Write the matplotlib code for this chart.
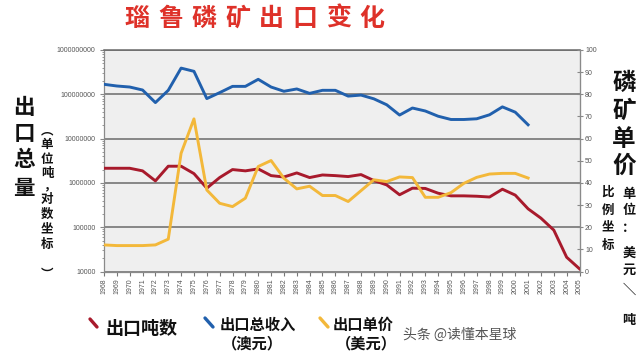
import matplotlib
matplotlib.use("Agg")
import matplotlib.pyplot as plt
from matplotlib.lines import Line2D
from matplotlib.ticker import LogLocator, FixedLocator, NullFormatter

plt.rcParams['font.family'] = ['Liberation Sans', 'Noto Sans CJK SC', 'DejaVu Sans']
CJK = ['Noto Sans CJK SC', 'DejaVu Sans']

# ---- data ----
years = list(range(1968, 2006))
years_rev = list(range(1968, 2002))

tonnes = [2.14e6, 2.14e6, 2.14e6, 1.87e6, 1.11e6, 2.38e6, 2.38e6, 1.62e6, 7.6e5, 1.32e6,
          2.0e6, 1.87e6, 2.07e6, 1.46e6, 1.36e6, 1.68e6, 1.32e6, 1.51e6, 1.46e6, 1.39e6,
          1.54e6, 1.13e6, 9.0e5, 5.4e5, 7.6e5, 7.5e5, 5.85e5, 5.1e5, 5.1e5, 5.0e5,
          4.8e5, 7.2e5, 5.3e5, 2.6e5, 1.6e5, 8.6e4, 2.1e4, 1.15e4]

revenue = [1.68e8, 1.54e8, 1.46e8, 1.25e8, 6.5e7, 1.23e8, 3.9e8, 3.3e8, 8.0e7, 1.09e8,
           1.51e8, 1.51e8, 2.18e8, 1.46e8, 1.17e8, 1.32e8, 1.05e8, 1.23e8, 1.23e8, 9.1e7,
           9.6e7, 7.9e7, 5.8e7, 3.4e7, 4.9e7, 4.2e7, 3.2e7, 2.7e7, 2.7e7, 2.8e7,
           3.45e7, 5.2e7, 3.95e7, 2.05e7]

price = [12.0, 11.7, 11.7, 11.7, 12.0, 14.6, 53.4, 68.9, 36.8, 30.8,
         29.3, 33.1, 47.4, 50.1, 42.1, 37.3, 38.5, 34.3, 34.3, 31.6,
         36.5, 41.4, 40.6, 42.7, 42.4, 33.5, 33.5, 35.6, 39.8, 42.5,
         44.0, 44.3, 44.3, 42.2]

left_ticks = [1e4, 1e5, 1e6, 1e7, 1e8, 1e9]
left_labels = ['10000', '100000', '1000000', '10000000', '100000000', '1000000000']
right_ticks = list(range(0, 101, 10))

RED = '#a81a2c'
BLUE = '#2160ad'
YELLOW = '#f3b83a'
GRID = '#6a6a6a'
TICK = '#555555'

W, H = 640, 356


def fc(x, y):
    """pixel position -> figure fraction"""
    return x / W, 1 - y / H


fig = plt.figure(figsize=(6.4, 3.56), dpi=100)

x0, y0 = fc(104, 271.5)
x1, y1 = fc(579.5, 50)
ax = fig.add_axes([x0, y0, x1 - x0, y1 - y0])
ax.set_facecolor('#efefef')
ax.set_yscale('log')
ax.set_ylim(1e4, 1e9)
ax.set_xlim(years[0], years[-1])

ax.plot(years, tonnes, color=RED, lw=2.1, solid_joinstyle='round', zorder=3)
ax.plot(years_rev, revenue, color=BLUE, lw=2.1, solid_joinstyle='round', zorder=3)

ax.yaxis.set_major_locator(FixedLocator(left_ticks))
ax.set_yticklabels(left_labels)
ax.yaxis.set_minor_locator(LogLocator(base=10, subs=range(2, 10)))
ax.yaxis.set_minor_formatter(NullFormatter())
ax.grid(axis='y', which='major', color=GRID, lw=1.1)
ax.set_axisbelow(True)

ax.set_xticks(years)
ax.set_xticklabels([str(y) for y in years], rotation=90, fontsize=5, color=TICK)
ax.tick_params(axis='x', length=3, color='#777777', pad=2)
ax.tick_params(axis='y', which='major', labelsize=5, labelcolor=TICK, color='#888888', length=3, pad=3)
ax.tick_params(axis='y', which='minor', color='#888888', length=1.8)

for s in ['left', 'bottom', 'right']:
    ax.spines[s].set_color('#8a8a8a')
    ax.spines[s].set_linewidth(0.9)
ax.spines['top'].set_color(GRID)
ax.spines['top'].set_linewidth(1.1)

ax2 = ax.twinx()
ax2.set_ylim(0, 100)
ax2.plot(years_rev, price, color=YELLOW, lw=2.1, solid_joinstyle='round', zorder=3)
ax2.set_yticks(right_ticks)
ax2.tick_params(axis='y', labelsize=5, labelcolor=TICK, color='#888888', length=4,
                direction='inout', pad=2)
for s in ax2.spines.values():
    s.set_visible(False)
ax2.spines['right'].set_visible(True)
ax2.spines['right'].set_color('#8a8a8a')

# ---- title ----
title = '瑙鲁磷矿出口变化'
for i, ch in enumerate(title):
    fig.text(*fc(137 + 33.6 * i, 19), ch, family=CJK, fontsize=18, fontweight='bold',
             color='#de3129', ha='center', va='center')

# ---- left axis label ----
for ch, yy in zip('出口总量', [107, 134, 160, 189]):
    fig.text(*fc(24, yy), ch, family=CJK, fontsize=15.5, fontweight='black',
             color='#111111', ha='center', va='center')
small_left = ['︵', '单', '位', '吨', '，', '对', '数', '坐', '标', '︶']
small_left_y = [131, 145, 160, 174, 186, 199, 214, 229, 244, 274]
for ch, yy in zip(small_left, small_left_y):
    xx = 50 if ch == '，' else 47
    fig.text(*fc(xx, yy), ch, family=CJK, fontsize=9, fontweight='bold',
             color='#111111', ha='center', va='center')

# ---- right axis label ----
for ch, yy in zip('磷矿单价', [83, 111, 139, 166]):
    fig.text(*fc(624, yy), ch, family=CJK, fontsize=17, fontweight='bold',
             color='#111111', ha='center', va='center')
for ch, yy in zip('比例坐标', [192, 210, 227, 245]):
    fig.text(*fc(608, yy), ch, family=CJK, fontsize=9, fontweight='bold',
             color='#111111', ha='center', va='center')
for ch, yy in zip(['单', '位', '：', '美', '元', '＼', '吨'], [194, 210, 228, 253, 270, 290, 320]):
    fig.text(*fc(629, yy), ch, family=CJK, fontsize=9.5, fontweight='bold',
             color='#111111', ha='center', va='center')

# ---- legend ----
legend_items = [
    (RED, (90, 319), (97, 327), '出口吨数', 105, 329, None, 0),
    (BLUE, (205, 318), (213, 327), '出口总收入', 220, 325, '（澳元）', 252),
    (YELLOW, (320, 318), (328, 327), '出口单价', 333, 325, '（美元）', 366),
]
for col, p0, p1, label, lx, ly, sub, sx in legend_items:
    a, b = fc(*p0)
    c, d = fc(*p1)
    fig.add_artist(Line2D([a, c], [b, d], transform=fig.transFigure, color=col,
                          lw=2.4, solid_capstyle='round'))
    big = label == '出口吨数'
    fig.text(*fc(lx, ly), label, family=CJK, fontsize=13 if big else 11,
             fontweight='bold', color='#111111', ha='left', va='center')
    if sub:
        fig.text(*fc(sx, 343), sub, family=CJK, fontsize=11, fontweight='bold',
                 color='#111111', ha='center', va='center')

fig.text(*fc(460, 335), '头条 @读懂本星球', family=CJK, fontsize=10,
         color='#555555', ha='center', va='center')

fig.savefig('out.png', dpi=100, facecolor='white')
